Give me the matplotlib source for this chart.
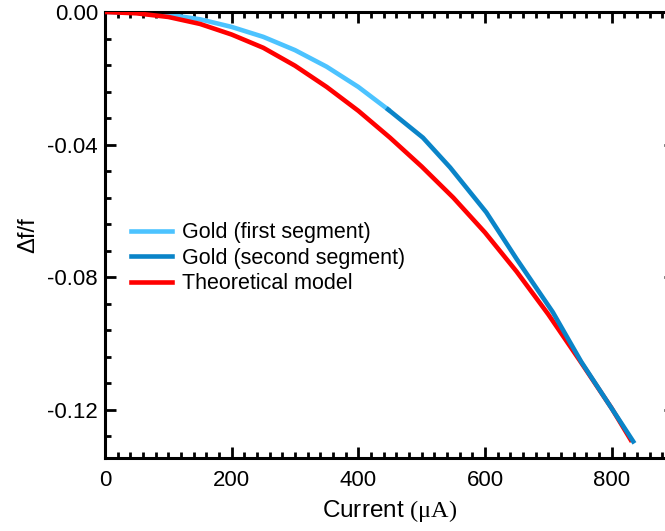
import matplotlib
matplotlib.use("Agg")
import matplotlib.pyplot as plt
from matplotlib.ticker import MultipleLocator, FormatStrFormatter

# Theoretical model (red)
model_x = [0, 50, 100, 150, 200, 250, 300, 350, 400, 450, 500, 550, 600,
           650, 700, 750, 800, 830]
model_y = [0.0, -0.0004, -0.0015, -0.0036, -0.0068, -0.0108, -0.0162,
           -0.0226, -0.0298, -0.0379, -0.0466, -0.0560, -0.0665, -0.0783,
           -0.0912, -0.1052, -0.1195, -0.1290]

# Gold, first segment (light blue)
seg1_x = [0, 50, 100, 150, 200, 250, 300, 350, 400, 447]
seg1_y = [0.0, -0.0002, -0.0008, -0.0022, -0.0045, -0.0075, -0.0115,
          -0.0165, -0.0226, -0.0294]

# Gold, second segment (dark blue)
seg2_x = [447, 502, 545, 602, 650, 707, 752, 818, 834]
seg2_y = [-0.0294, -0.0379, -0.0469, -0.0604, -0.0745, -0.0905, -0.1055,
          -0.1248, -0.1295]

xticks = [0, 200, 400, 600, 800]
yticks = [0.0, -0.04, -0.08, -0.12]


def main():
    plt.rcParams['font.family'] = ['Liberation Sans', 'DejaVu Sans']
    plt.rcParams['mathtext.fontset'] = 'custom'
    plt.rcParams['mathtext.rm'] = 'Liberation Serif'
    plt.rcParams['axes.unicode_minus'] = False

    fig = plt.figure(figsize=(6.65, 5.31), dpi=100)
    ax = fig.add_axes([105/665, 73/531, 570/665, 446/531])

    # light blue under the model, dark blue over it
    ax.plot(seg1_x, seg1_y, color='#4cc3ff', lw=3.3, label='Gold (first segment)', zorder=2)
    ax.plot(model_x, model_y, color='#ff0000', lw=3.3, label='Theoretical model', zorder=3)
    ax.plot(seg2_x, seg2_y, color='#0a84c8', lw=3.3, label='Gold (second segment)', zorder=4)

    ax.set_xlim(0, 900)
    ax.set_ylim(-0.1345, 0.0)
    ax.set_xticks(xticks)
    ax.set_yticks(yticks)
    ax.xaxis.set_minor_locator(MultipleLocator(20))
    ax.yaxis.set_minor_locator(MultipleLocator(0.008))
    ax.yaxis.set_major_formatter(FormatStrFormatter('%.2f'))

    for s in ax.spines.values():
        s.set_linewidth(2.2)
    ax.tick_params(which='both', direction='in', top=True, right=True, width=2.0)
    ax.tick_params(which='major', length=8, labelsize=16)
    ax.tick_params(axis='x', which='major', pad=8.5)
    ax.tick_params(axis='y', which='major', pad=5)
    ax.tick_params(which='minor', length=4.5)

    ax.set_xlabel('Current $\\mathrm{(μA)}$', fontsize=17.5, labelpad=5)
    ax.set_ylabel('Δf/f', fontsize=17, labelpad=6)

    h, l = ax.get_legend_handles_labels()
    order = [0, 2, 1]
    ax.legend([h[i] for i in order], [l[i] for i in order], loc='upper left',
              bbox_to_anchor=(0.0305, 0.548), frameon=False, fontsize=15.5,
              handlelength=1.9, handletextpad=0.47, labelspacing=0.21,
              borderaxespad=0)

    fig.savefig('out.png', dpi=100)


if __name__ == "__main__":
    main()
